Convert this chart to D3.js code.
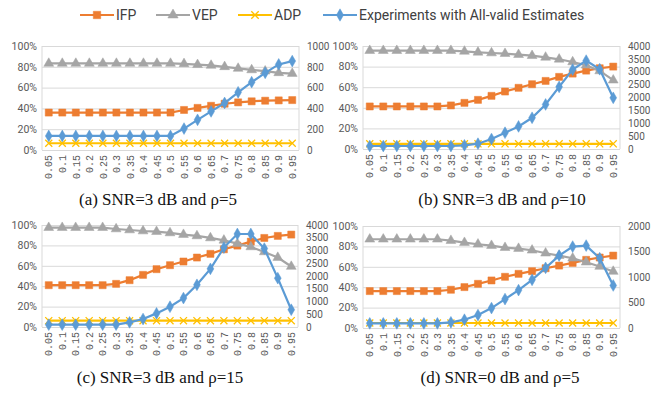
<!DOCTYPE html>
<html>
<head>
<meta charset="utf-8">
<script src="https://cdn.jsdelivr.net/npm/d3@7"></script>
<style>
  body { margin: 0; background: #fff; }
  .tick text { fill: #595959; }
</style>
</head>
<body>
<svg id="chart"></svg>
<script>
const thresholds = ["0.05","0.1","0.15","0.2","0.25","0.3","0.35","0.4","0.45","0.5",
                    "0.55","0.6","0.65","0.7","0.75","0.8","0.85","0.9","0.95"];
const seriesNames = ["IFP", "VEP", "ADP", "Experiments with All-valid Estimates"];
const captions = ["(a) SNR=3 dB and \u03c1=5", "(b) SNR=3 dB and \u03c1=10",
                  "(c) SNR=3 dB and \u03c1=15", "(d) SNR=0 dB and \u03c1=5"];
const pctTicks = [0, 0.2, 0.4, 0.6, 0.8, 1];

// (a) SNR=3 dB, rho=5
const ifpA = [0.36,0.36,0.36,0.36,0.36,0.36,0.36,0.36,0.36,0.36,0.385,0.405,0.425,0.445,0.458,0.468,0.474,0.477,0.48];
const vepA = [0.832,0.832,0.832,0.832,0.832,0.832,0.832,0.832,0.832,0.832,0.829,0.82,0.813,0.80,0.784,0.77,0.758,0.742,0.735];
const adpA = [0.065,0.065,0.065,0.065,0.065,0.065,0.065,0.065,0.065,0.065,0.065,0.065,0.065,0.065,0.065,0.065,0.065,0.065,0.065];
const expA = [135,135,135,135,135,135,135,135,135,135,206,290,371,452,555,652,742,823,855];
const rightTicksA = [0, 200, 400, 600, 800, 1000];

// (b) SNR=3 dB, rho=10
const ifpB = [0.413,0.413,0.413,0.413,0.413,0.413,0.423,0.448,0.477,0.516,0.558,0.594,0.629,0.661,0.70,0.732,0.761,0.784,0.80];
const vepB = [0.955,0.955,0.955,0.955,0.955,0.955,0.955,0.948,0.939,0.932,0.926,0.916,0.906,0.89,0.871,0.845,0.813,0.758,0.668];
const adpB = [0.05,0.05,0.05,0.05,0.05,0.05,0.05,0.05,0.05,0.05,0.05,0.05,0.05,0.05,0.05,0.05,0.05,0.05,0.05];
const expB = [116,116,116,116,116,116,116,142,206,387,632,877,1213,1729,2413,3084,3432,3097,1987];
const rightTicksB = [0, 500, 1000, 1500, 2000, 2500, 3000, 3500, 4000];

// (c) SNR=3 dB, rho=15
const ifpC = [0.41,0.41,0.41,0.41,0.41,0.423,0.459,0.511,0.567,0.606,0.642,0.681,0.717,0.762,0.798,0.837,0.873,0.893,0.906];
const vepC = [0.974,0.974,0.974,0.974,0.974,0.961,0.951,0.941,0.935,0.922,0.906,0.893,0.873,0.85,0.818,0.785,0.736,0.681,0.593];
const adpC = [0.062,0.062,0.062,0.062,0.062,0.062,0.062,0.062,0.062,0.062,0.062,0.062,0.062,0.062,0.062,0.062,0.062,0.062,0.062];
const expC = [91,91,91,91,91,91,182,313,534,795,1134,1655,2280,3114,3648,3648,3075,1915,677];
const rightTicksC = [0, 500, 1000, 1500, 2000, 2500, 3000, 3500, 4000];

// (d) SNR=0 dB, rho=5
const ifpD = [0.362,0.362,0.362,0.362,0.362,0.362,0.375,0.401,0.433,0.466,0.502,0.531,0.557,0.586,0.612,0.638,0.668,0.691,0.71];
const vepD = [0.87,0.87,0.87,0.87,0.87,0.87,0.857,0.837,0.821,0.808,0.788,0.779,0.762,0.733,0.71,0.684,0.645,0.603,0.554];
const adpD = [0.049,0.049,0.049,0.049,0.049,0.049,0.049,0.049,0.049,0.049,0.049,0.049,0.049,0.049,0.049,0.049,0.049,0.049,0.049];
const expD = [91,91,91,91,91,91,111,163,254,391,567,743,945,1179,1420,1596,1616,1368,834];
const rightTicksD = [0, 500, 1000, 1500, 2000];

const colors = ["#ED7D31", "#A5A5A5", "#FFC000", "#5B9BD5"];
const symbols = [d3.symbolSquare, d3.symbolTriangle, d3.symbolX || d3.symbolTimes, d3.symbolDiamond];
const symbolSizes = [50, 42, 34, 40];

const panels = [
  { left: 42, right: 299, top: 46, bottom: 150, ifp: ifpA, vep: vepA, adp: adpA, exp: expA, rTicks: rightTicksA, caption: captions[0], capX: 158, capY: 205 },
  { left: 363, right: 620, top: 46, bottom: 149, ifp: ifpB, vep: vepB, adp: adpB, exp: expB, rTicks: rightTicksB, caption: captions[1], capX: 502, capY: 205 },
  { left: 42, right: 298, top: 225, bottom: 327, ifp: ifpC, vep: vepC, adp: adpC, exp: expC, rTicks: rightTicksC, caption: captions[2], capX: 160, capY: 383 },
  { left: 363, right: 620, top: 226, bottom: 328, ifp: ifpD, vep: vepD, adp: adpD, exp: expD, rTicks: rightTicksD, caption: captions[3], capX: 500, capY: 383 }
];

const svg = d3.select("#chart")
    .attr("width", 659)
    .attr("height", 394)
    .style("font-family", "Roboto, 'Open Sans', sans-serif");

panels.forEach(p => {
    const g = svg.append("g");

    const x = d3.scalePoint()
        .domain(thresholds)
        .range([p.left, p.right])
        .padding(0.5);

    const yL = d3.scaleLinear().domain([0, 1]).range([p.bottom, p.top]);
    const yR = d3.scaleLinear().domain([0, d3.max(p.rTicks)]).range([p.bottom, p.top]);

    // gridlines
    g.append("g")
        .attr("transform", `translate(${p.left},0)`)
        .call(d3.axisLeft(yL).tickValues(pctTicks).tickSize(-(p.right - p.left)).tickFormat(""))
        .call(a => a.select(".domain").remove())
        .call(a => a.selectAll("line").attr("stroke", "#D9D9D9"));

    g.append("line")
        .attr("x1", p.left).attr("x2", p.left)
        .attr("y1", p.top).attr("y2", p.bottom)
        .attr("stroke", "#D9D9D9");
    g.append("line")
        .attr("x1", p.right).attr("x2", p.right)
        .attr("y1", p.top).attr("y2", p.bottom)
        .attr("stroke", "#D9D9D9");

    // left axis
    g.append("g")
        .attr("transform", `translate(${p.left - 2},0)`)
        .call(d3.axisLeft(yL).tickValues(pctTicks).tickSize(0).tickFormat(d3.format(".0%")))
        .call(a => a.select(".domain").remove())
        .call(a => a.selectAll("text").attr("font-size", 10.5).attr("font-family", "Roboto"));

    // right axis
    g.append("g")
        .attr("transform", `translate(${p.right + 5},0)`)
        .call(d3.axisRight(yR).tickValues(p.rTicks).tickSize(0).tickFormat(d3.format("d")))
        .call(a => a.select(".domain").remove())
        .call(a => a.selectAll("text").attr("font-size", 10).attr("font-family", "Roboto"));

    // bottom axis, rotated labels
    g.append("g")
        .attr("transform", `translate(0,${p.bottom + 5})`)
        .call(d3.axisBottom(x).tickSize(0))
        .call(a => a.select(".domain").remove())
        .call(a => a.selectAll("text")
            .attr("font-size", 10)
            .attr("font-family", "'Liberation Mono', monospace")
            .attr("transform", "rotate(-90)")
            .attr("text-anchor", "end")
            .attr("x", 0)
            .attr("y", 0)
            .attr("dx", 0)
            .attr("dy", "0.32em"));

    const series = [
        { vals: p.ifp, y: yL },
        { vals: p.vep, y: yL },
        { vals: p.adp, y: yL },
        { vals: p.exp, y: yR }
    ];

    series.forEach((s, i) => {
        const line = d3.line()
            .x((d, j) => x(thresholds[j]))
            .y(d => s.y(d));

        g.append("path")
            .datum(s.vals)
            .attr("fill", "none")
            .attr("stroke", colors[i])
            .attr("stroke-width", 2.2)
            .attr("d", line);

        g.selectAll(".m" + i)
            .data(s.vals)
            .enter()
            .append("path")
            .attr("class", "m" + i)
            .attr("transform", (d, j) => `translate(${x(thresholds[j])},${s.y(d)})`)
            .attr("d", d3.symbol().type(symbols[i]).size(symbolSizes[i]))
            .attr("fill", i === 2 ? "none" : colors[i])
            .attr("stroke", colors[i])
            .attr("stroke-width", i === 2 ? 1.3 : 0.5);
    });

    svg.append("text")
        .attr("x", p.capX)
        .attr("y", p.capY)
        .attr("text-anchor", "middle")
        .attr("font-family", "'Liberation Serif', serif")
        .attr("font-size", 17)
        .attr("fill", "#111")
        .text(p.caption);
});

// legend
const legendX = [80, 156, 238, 323];
const legend = svg.append("g").attr("transform", "translate(0,15)");
seriesNames.forEach((name, i) => {
    const lg = legend.append("g").attr("transform", `translate(${legendX[i]},0)`);
    lg.append("line")
        .attr("x1", 0).attr("x2", 34)
        .attr("stroke", colors[i])
        .attr("stroke-width", 2.2);
    lg.append("path")
        .attr("transform", "translate(17,0)")
        .attr("d", d3.symbol().type(symbols[i]).size(symbolSizes[i] * 1.1))
        .attr("fill", i === 2 ? "none" : colors[i])
        .attr("stroke", colors[i])
        .attr("stroke-width", i === 2 ? 1.3 : 0.5);
    lg.append("text")
        .attr("x", 36)
        .attr("dy", "0.35em")
        .attr("font-size", 14)
        .attr("fill", "#404040")
        .text(name);
});
</script>
</body>
</html>
